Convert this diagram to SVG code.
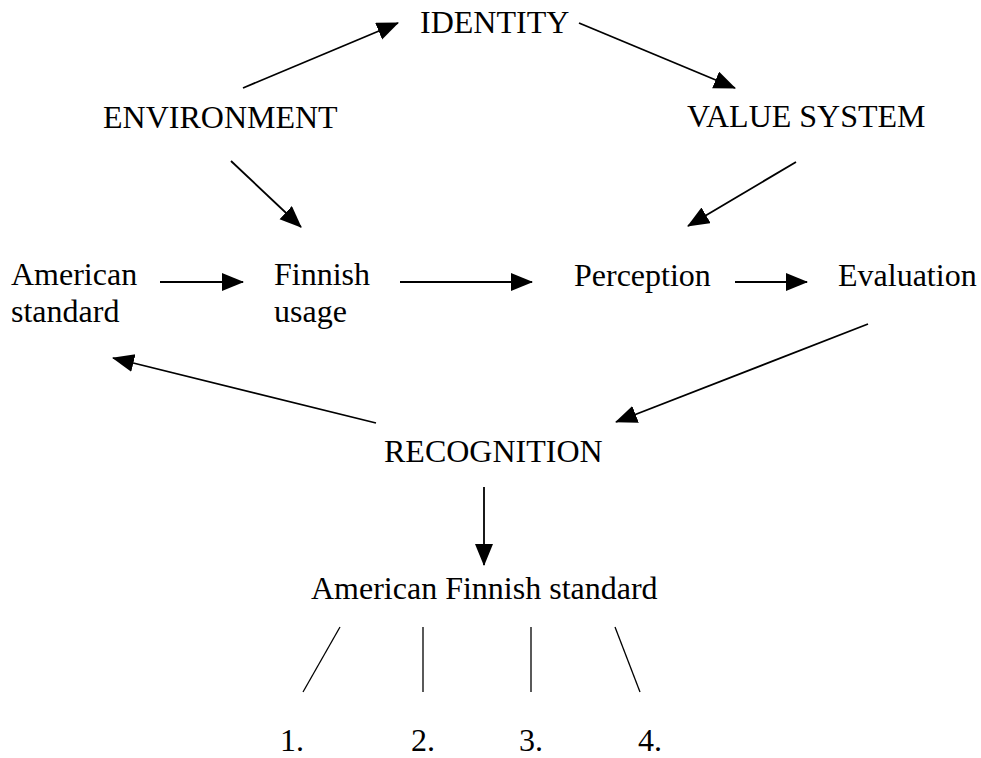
<svg xmlns="http://www.w3.org/2000/svg" width="981" height="758" viewBox="0 0 981 758">
<style>
  text { font-family: "Liberation Serif", "Times New Roman", serif; font-size: 32px; fill: #000; }
  .arrow { stroke: #000; stroke-width: 1.8; fill: none; marker-end: url(#ah); }
  .tick { stroke: #000; stroke-width: 1.3; fill: none; }
</style>
<defs>
  <marker id="ah" markerUnits="userSpaceOnUse" markerWidth="24" markerHeight="20" refX="21" refY="9" orient="auto">
    <path d="M0,0 L22,9 L0,18 z" fill="#000"/>
  </marker>
</defs>
<rect width="981" height="758" fill="#fff"/>
<g id="identity"><text x="420" y="33">IDENTITY</text></g>
<g id="environment"><text x="103" y="128">ENVIRONMENT</text></g>
<g id="value-system"><text x="687" y="127">VALUE SYSTEM</text></g>
<g id="american-standard"><text x="11" y="285">American</text><text x="11" y="322">standard</text></g>
<g id="finnish-usage"><text x="274" y="285">Finnish</text><text x="274" y="322">usage</text></g>
<g id="perception"><text x="574" y="286">Perception</text></g>
<g id="evaluation"><text x="838" y="286">Evaluation</text></g>
<g id="recognition"><text x="384" y="462">RECOGNITION</text></g>
<g id="american-finnish-standard"><text x="311" y="599">American Finnish standard</text></g>
<g id="n1"><text x="280" y="751">1.</text></g>
<g id="n2"><text x="411" y="751">2.</text></g>
<g id="n3"><text x="519" y="751">3.</text></g>
<g id="n4"><text x="638" y="751">4.</text></g>
<g id="connectors">
  <line class="arrow" x1="243" y1="88" x2="398" y2="23"/>
  <line class="arrow" x1="579" y1="23" x2="735" y2="88"/>
  <line class="arrow" x1="231" y1="161" x2="301" y2="227"/>
  <line class="arrow" x1="796" y1="162" x2="688" y2="226"/>
  <line class="arrow" x1="160" y1="282" x2="243" y2="282"/>
  <line class="arrow" x1="400" y1="282" x2="532" y2="282"/>
  <line class="arrow" x1="735" y1="282" x2="807" y2="282"/>
  <line class="arrow" x1="868" y1="324" x2="616" y2="422"/>
  <line class="arrow" x1="376" y1="423" x2="113" y2="358"/>
  <line class="arrow" x1="484" y1="487" x2="484" y2="565"/>
  <line class="tick" x1="340" y1="627" x2="303" y2="692"/>
  <line class="tick" x1="423" y1="627" x2="423" y2="692"/>
  <line class="tick" x1="531" y1="627" x2="531" y2="692"/>
  <line class="tick" x1="615" y1="627" x2="640" y2="692"/>
</g>
</svg>
